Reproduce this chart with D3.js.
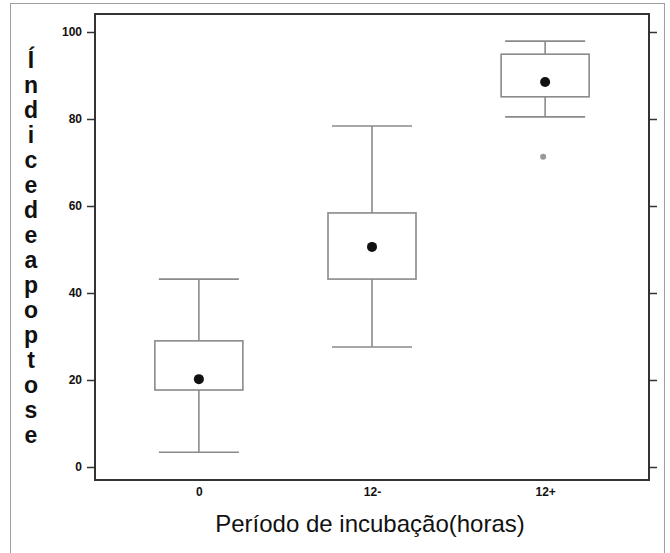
<!DOCTYPE html>
<html><head><meta charset="utf-8">
<script src="https://cdn.jsdelivr.net/npm/d3@7"></script>
<style>body{margin:0;background:#fff}svg{display:block}</style>
</head><body>
<svg id="chart" width="670" height="553"></svg>
<script>
const categories = ["0", "12-", "12+"];
const whiskerLow = [3.4, 27.6, 80.5];
const q1 = [17.7, 43.2, 85.1];
const q3 = [29.0, 58.4, 94.9];
const whiskerHigh = [43.2, 78.4, 97.9];
const centers = [20.2, 50.6, 88.5];
const outliers = [[], [], [71.3]];
const yTicks = [0, 20, 40, 60, 80, 100];
const yTitle = "Índice de apoptose";
const xTitle = "Período de incubação(horas)";

const svg = d3.select("#chart");
const font = "'Liberation Sans', Arial, sans-serif";
const L = 95, R = 649, T = 14, B = 480;

// outer frame
svg.append("rect").attr("x", 10.5).attr("y", 3.5).attr("width", 654).attr("height", 570)
  .attr("fill", "none").attr("stroke", "#a0a0a0").attr("stroke-width", 1);

const x = d3.scalePoint().domain(categories).range([L, R]).padding(0.6);
const y = d3.scaleLinear().domain([0, 100]).range([467, 32]);

// plot frame
svg.append("rect").attr("x", L).attr("y", T).attr("width", R - L).attr("height", B - T)
  .attr("fill", "none").attr("stroke", "#333").attr("stroke-width", 2);

// left axis
const yl = svg.append("g").attr("transform", `translate(${L},0)`)
  .call(d3.axisLeft(y).tickValues(yTicks).tickSize(8).tickPadding(5));
yl.select(".domain").remove();
yl.selectAll("line").attr("stroke", "#333").attr("stroke-width", 1.5);
yl.selectAll("text").attr("font-family", font).attr("font-size", 12).attr("font-weight", "bold").attr("fill", "#111");

// right axis ticks
const yr = svg.append("g").attr("transform", `translate(${R},0)`)
  .call(d3.axisRight(y).tickValues(yTicks).tickSize(8).tickFormat(""));
yr.select(".domain").remove();
yr.selectAll("line").attr("stroke", "#333").attr("stroke-width", 1.5);

// x labels
const xa = svg.append("g").attr("transform", `translate(0,${B})`)
  .call(d3.axisBottom(x).tickSize(0).tickPadding(7));
xa.select(".domain").remove();
xa.selectAll("text").attr("font-family", font).attr("font-size", 12).attr("font-weight", "bold").attr("fill", "#111");

// boxes
const boxW = 88, capW = 80;
const g = svg.append("g");
categories.forEach((c, i) => {
  const cx = x(c);
  const st = "#8a8a8a", sw = 1.6;
  g.append("line").attr("x1", cx).attr("x2", cx).attr("y1", y(whiskerHigh[i])).attr("y2", y(q3[i])).attr("stroke", st).attr("stroke-width", sw);
  g.append("line").attr("x1", cx).attr("x2", cx).attr("y1", y(q1[i])).attr("y2", y(whiskerLow[i])).attr("stroke", st).attr("stroke-width", sw);
  g.append("line").attr("x1", cx - capW / 2).attr("x2", cx + capW / 2).attr("y1", y(whiskerHigh[i])).attr("y2", y(whiskerHigh[i])).attr("stroke", st).attr("stroke-width", sw);
  g.append("line").attr("x1", cx - capW / 2).attr("x2", cx + capW / 2).attr("y1", y(whiskerLow[i])).attr("y2", y(whiskerLow[i])).attr("stroke", st).attr("stroke-width", sw);
  g.append("rect").attr("x", cx - boxW / 2).attr("y", y(q3[i])).attr("width", boxW).attr("height", y(q1[i]) - y(q3[i]))
    .attr("fill", "none").attr("stroke", st).attr("stroke-width", sw);
  g.append("circle").attr("cx", cx).attr("cy", y(centers[i])).attr("r", 5).attr("fill", "#111");
  outliers[i].forEach(v => {
    g.append("circle").attr("cx", cx - 2).attr("cy", y(v)).attr("r", 3).attr("fill", "#999");
  });
});

// vertical y title, letter by letter
const letters = yTitle.replace(/ /g, "").split("");
svg.append("g").selectAll("text").data(letters).join("text")
  .attr("x", 31).attr("y", (d, i) => 68 + i * 25)
  .attr("text-anchor", "middle").attr("font-family", font).attr("font-size", 23).attr("font-weight", "bold").attr("fill", "#111")
  .text(d => d);

// x title
svg.append("text").attr("x", 370).attr("y", 532).attr("text-anchor", "middle")
  .attr("font-family", font).attr("font-size", 24).attr("fill", "#111").text(xTitle);
</script>
</body></html>
